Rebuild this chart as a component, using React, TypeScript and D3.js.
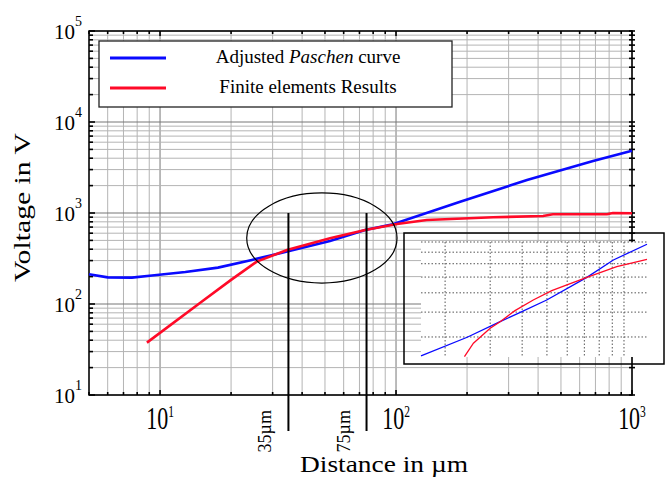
import React from 'react'
import * as d3 from 'd3'

// main curves (distance in µm, voltage in V)
const paschenD = [5, 6, 7.6, 9.25, 12.8, 17.6, 24.5, 32.9, 52.5, 74, 97, 187, 359, 684, 1000]
const paschenV = [212, 196, 195, 206, 225, 251, 305, 366, 492, 650, 752, 1330, 2305, 3720, 4840]
const feD = [8.8, 15, 20, 25.7, 34.5, 52.5, 74, 101, 135, 258, 420, 462, 784, 830, 1000]
const feV = [37.6, 106, 184, 292, 392, 527, 650, 757, 838, 897, 927, 968, 968, 1000, 995]

// zoomed inset curves
const insetPaschenD = [16.1, 24.4, 32.8, 39.9, 49.9, 71.6, 90.9, 123]
const insetPaschenV = [241, 299, 358, 402, 460, 598, 731, 877]
const insetFeD = [23.8, 25.8, 30, 32.8, 37.5, 44.2, 52.2, 71.6, 93.7, 123]
const insetFeV = [239, 279, 332, 358, 407, 460, 513, 598, 677, 737]
const insetGridD = [20, 30, 40, 50, 60, 70, 80, 90, 100]
const insetGridV = [300, 400, 500, 600, 700, 800, 900]

// tick labels (powers of ten)
const xLabelExp = [1, 2, 3]
const yLabelExp = [1, 2, 3, 4, 5]

// annotations
const markerD = [35, 75]
const markerLabels = ['35µm', '75µm']
const ellipseD = [23.3, 101]
const ellipseV = [170, 1660]

const legendItems = ['paschen', 'fe']

const FONT = '"Liberation Serif", "Times New Roman", serif'
const BLUE = '#0a0aff'
const RED = '#ff0a28'

const App = () => {
  const left = 89, right = 632, top = 31, bottom = 395

  const x = d3.scaleLog().domain([5, 1000]).range([left, right])
  const y = d3.scaleLog().domain([10, 1e5]).range([bottom, top])

  // inset frame and plotting area
  const inset = { x0: 404, y0: 233, x1: 664, y1: 364 }
  const ix = d3.scaleLog().domain([16.1, 123]).range([421, 647])
  const iy = d3.scaleLog().domain([238, 900]).range([357, 242])

  const isMajor = (v: number) => Math.abs(Math.log10(v) - Math.round(Math.log10(v))) < 1e-9

  const mainLine = d3.line<[number, number]>().x(d => x(d[0])).y(d => y(d[1]))
  const insetLine = d3.line<[number, number]>().x(d => ix(d[0])).y(d => iy(d[1]))

  const paschen = paschenD.map((d, i) => [d, paschenV[i]] as [number, number])
  const fe = feD.map((d, i) => [d, feV[i]] as [number, number])
  const insetPaschen = insetPaschenD.map((d, i) => [d, insetPaschenV[i]] as [number, number])
  const insetFe = insetFeD.map((d, i) => [d, insetFeV[i]] as [number, number])

  const xt = x.ticks()
  const yt = y.ticks()

  const ecx = (x(ellipseD[0]) + x(ellipseD[1])) / 2
  const ecy = (y(ellipseV[0]) + y(ellipseV[1])) / 2
  const erx = (x(ellipseD[1]) - x(ellipseD[0])) / 2
  const ery = (y(ellipseV[0]) - y(ellipseV[1])) / 2

  return (
    <svg width={665} height={478} style={{ position: 'absolute', left: 0, top: 0, background: '#fff' }}
      fontFamily={FONT}>
      {/* grid */}
      {xt.map((v, i) => (
        <line key={'gx' + i} x1={x(v)} x2={x(v)} y1={top} y2={bottom}
          stroke={isMajor(v) ? '#777' : '#b4b4b4'} strokeWidth={1} />
      ))}
      {yt.map((v, i) => (
        <line key={'gy' + i} x1={left} x2={right} y1={y(v)} y2={y(v)}
          stroke={isMajor(v) ? '#777' : '#b4b4b4'} strokeWidth={1} />
      ))}

      {/* ticks */}
      {xt.map((v, i) => (
        <g key={'tx' + i} stroke="#000" strokeWidth={1.6}>
          <line x1={x(v)} x2={x(v)} y1={top} y2={top + (isMajor(v) ? 5 : 3)} />
          <line x1={x(v)} x2={x(v)} y1={bottom} y2={bottom - (isMajor(v) ? 5 : 3)} />
        </g>
      ))}
      {yt.map((v, i) => (
        <g key={'ty' + i} stroke="#000" strokeWidth={1.6}>
          <line x1={left} x2={left + (isMajor(v) ? 6 : 4)} y1={y(v)} y2={y(v)} />
          <line x1={right - 3} x2={right + 3} y1={y(v)} y2={y(v)} />
        </g>
      ))}

      {/* frame */}
      <rect x={left} y={top} width={right - left} height={bottom - top} fill="none" stroke="#000" strokeWidth={1.5} />

      {/* curves */}
      <path d={mainLine(paschen) ?? ''} fill="none" stroke={BLUE} strokeWidth={2.6} />
      <path d={mainLine(fe) ?? ''} fill="none" stroke={RED} strokeWidth={2.6} />

      {/* ellipse and markers */}
      <ellipse cx={ecx} cy={ecy} rx={erx} ry={ery} fill="none" stroke="#000" strokeWidth={1.2} />
      {markerD.map((d, i) => (
        <g key={'m' + i}>
          <line x1={x(d)} x2={x(d)} y1={y(1000)} y2={bottom + 36} stroke="#000" strokeWidth={2} />
          <text transform={`translate(${x(d) - 17},410) rotate(-90)`} textAnchor="end" fontSize={18}>
            {markerLabels[i]}
          </text>
        </g>
      ))}

      {/* legend */}
      <rect x={99} y={41} width={353} height={66} fill="#fff" stroke="#222" strokeWidth={1.3} />
      {legendItems.map((k, i) => (
        <g key={k}>
          <line x1={110} x2={166} y1={58 + i * 30} y2={58 + i * 30} stroke={k === 'paschen' ? BLUE : RED} strokeWidth={3} />
          <text x={308} y={63 + i * 30} textAnchor="middle" fontSize={19}>
            {k === 'paschen'
              ? <>Adjusted <tspan fontStyle="italic">Paschen</tspan> curve</>
              : 'Finite elements Results'}
          </text>
        </g>
      ))}

      {/* inset */}
      <rect x={421} y={242} width={226} height={115} fill="#fff" />
      {insetGridV.map((v, i) => (
        <line key={'igy' + i} x1={421} x2={647} y1={iy(v)} y2={iy(v)} stroke="#555" strokeWidth={1} strokeDasharray="1.5,2" />
      ))}
      {insetGridD.map((d, i) => (
        <line key={'igx' + i} x1={ix(d)} x2={ix(d)} y1={242} y2={357} stroke="#555" strokeWidth={1} strokeDasharray="1.5,2" />
      ))}
      <path d={insetLine(insetPaschen) ?? ''} fill="none" stroke={BLUE} strokeWidth={1.3} />
      <path d={insetLine(insetFe) ?? ''} fill="none" stroke={RED} strokeWidth={1.3} />
      <rect x={inset.x0} y={inset.y0} width={inset.x1 - inset.x0} height={inset.y1 - inset.y0}
        fill="none" stroke="#000" strokeWidth={1.5} />

      {/* tick labels */}
      {yLabelExp.map(e => {
        const ty = y(Math.pow(10, e))
        return (
          <text key={'yl' + e} x={82} y={ty + 7.5} textAnchor="end" fontSize={21}>
            10<tspan fontSize={14} dy={-12.5}>{e}</tspan>
          </text>
        )
      })}
      {xLabelExp.map(e => {
        const tx = x(Math.pow(10, e))
        return (
          <text key={'xl' + e} transform={`translate(${tx},429) scale(1,1.42)`} textAnchor="middle" fontSize={22}>
            10<tspan fontSize={11.5} dy={-8.6}>{e}</tspan>
          </text>
        )
      })}

      {/* axis titles */}
      <text x={384} y={472} textAnchor="middle" fontSize={24} textLength={168} lengthAdjust="spacingAndGlyphs">Distance in µm</text>
      <text transform="translate(30,207.5) rotate(-90)" textAnchor="middle" fontSize={24} textLength={149}
        lengthAdjust="spacingAndGlyphs">Voltage in V</text>
    </svg>
  )
}

export default App
